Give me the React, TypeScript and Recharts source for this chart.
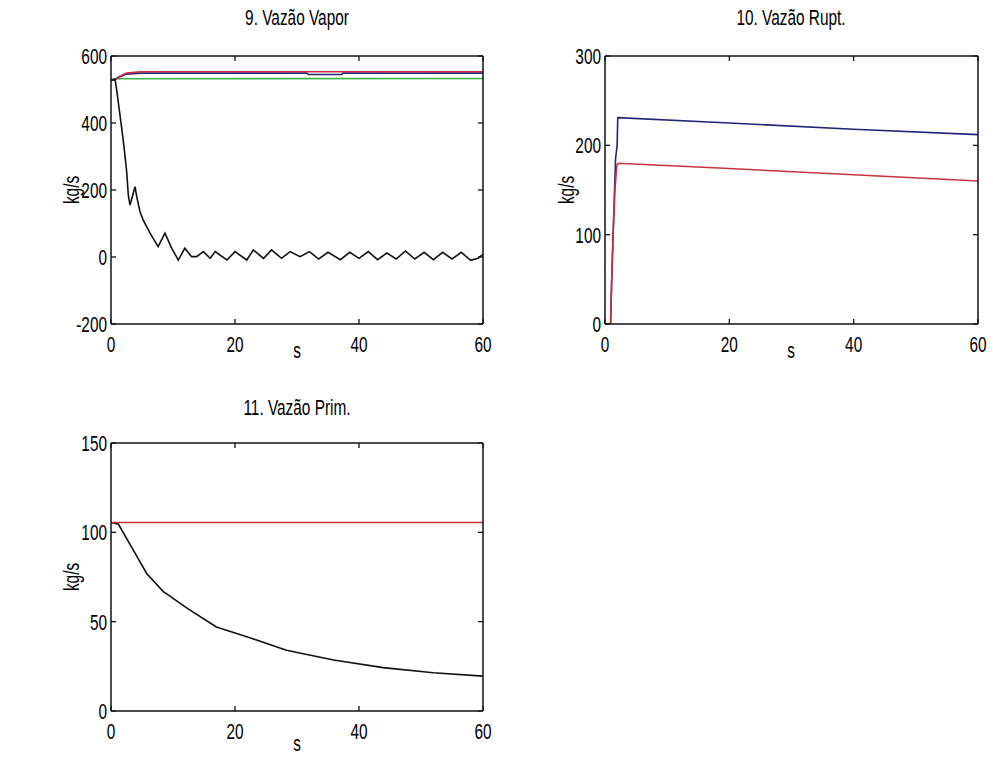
import React from 'react';
import { LineChart, Line, XAxis, YAxis } from 'recharts';

// ---------- shared ticks ----------
const timeTicks = [0, 20, 40, 60];
const vaporTicks = [-200, 0, 200, 400, 600];
const ruptTicks = [0, 100, 200, 300];
const primTicks = [0, 50, 100, 150];

// ---------- 9. Vazão Vapor ----------
const vaporBlackT = [0, 0.65, 0.92, 1.73, 2.1, 2.53, 2.79, 3.06, 3.44, 3.87, 4.15, 4.68, 5.2, 6.3, 7.6, 8.7, 9.8, 10.85, 11.9, 13.0, 13.8, 14.9, 16.0, 16.8, 18.7, 20.0, 21.9, 22.95, 24.6, 25.9, 27.5, 28.9, 30.5, 32, 33.5, 35, 37, 38.5, 40, 41.5, 43, 44.5, 46, 47.5, 49, 50.5, 52, 53.5, 55, 56.5, 58, 59.2, 60];
const vaporBlackV = [528, 531, 498, 384, 329, 255, 185, 155, 180, 210, 180, 135, 110, 71, 31, 71, 26, -9, 26, 1, 1, 16, -4, 16, -9, 16, -9, 21, -4, 21, -4, 16, 1, 16, -6, 14, -8, 14, -4, 16, -8, 12, -6, 18, -6, 14, -8, 14, -6, 14, -10, -4, 8];
const vaporRedT = [0, 0.6, 1.45, 2.5, 4.7, 60];
const vaporRedV = [526, 530, 540, 549, 553, 553];
const vaporBlueT = [0, 0.6, 1.45, 2.5, 4.7, 31.6, 31.8, 37.2, 37.4, 60];
const vaporBlueV = [526, 530, 538, 546, 549, 549, 545, 545, 549, 549];
const vaporGreenT = [0, 0.6, 60];
const vaporGreenV = [529, 532, 533];

// ---------- 10. Vazão Rupt. ----------
const ruptRedT = [0, 0.9, 1.0, 1.3, 1.6, 1.9, 2.2, 20, 40, 60];
const ruptRedV = [0, 0, 30, 100, 150, 178, 180, 174, 167, 160];
const ruptBlueT = [0, 0.9, 1.0, 1.3, 1.7, 1.95, 2.05, 20, 40, 60];
const ruptBlueV = [0, 0, 30, 100, 185, 200, 231, 225, 218, 212];

// ---------- 11. Vazão Prim. ----------
const primRedT = [0, 60];
const primRedV = [105.5, 105.5];
const primBlackT = [0, 1.2, 3.6, 5.75, 8.4, 12.5, 17, 22.4, 28.3, 35.9, 43.9, 52, 60];
const primBlackV = [105.5, 104.5, 90, 77, 67, 57, 47, 41, 34, 28.5, 24.3, 21.4, 19.5];

const zip = (t: number[], v: number[]) => t.map((x, i) => ({ t: x, v: v[i] }));

const FONT = "'Liberation Sans', Arial, sans-serif";
const FS = 22;
const SX = 0.7;
const RED = '#c8323c';
const BLUE = '#23237d';
const GREEN = '#3cb44b';
const BLACK = '#111111';
const AXIS = '#111';
const TICK_LEN = 5;

const txtStyle = { fontFamily: FONT, fontSize: FS, fill: '#000' } as const;

function NarrowText(props: { x: number; y: number; anchor: 'start' | 'middle' | 'end'; rotate?: number; children: React.ReactNode }) {
  const { x, y, anchor, rotate, children } = props;
  const tr = `translate(${x},${y})${rotate ? ` rotate(${rotate})` : ''} scale(${SX},1)`;
  return (
    <text transform={tr} x={0} y={0} textAnchor={anchor} style={txtStyle}>
      {children}
    </text>
  );
}

const LeftTick = (p: any) => (
  <g>
    <line x1={p.x} x2={p.x + TICK_LEN} y1={p.y} y2={p.y} stroke={AXIS} strokeWidth={1.3} />
    <NarrowText x={p.x - 4} y={p.y + 8} anchor="end">{p.payload.value}</NarrowText>
  </g>
);
const BottomTick = (p: any) => (
  <g>
    <line x1={p.x} x2={p.x} y1={p.y} y2={p.y - TICK_LEN} stroke={AXIS} strokeWidth={1.3} />
    <NarrowText x={p.x} y={p.y + 28} anchor="middle">{p.payload.value}</NarrowText>
  </g>
);
const TopTick = (p: any) => (
  <line x1={p.x} x2={p.x} y1={p.y} y2={p.y + TICK_LEN} stroke={AXIS} strokeWidth={1.3} />
);
const RightTick = (p: any) => (
  <line x1={p.x} x2={p.x - TICK_LEN} y1={p.y} y2={p.y} stroke={AXIS} strokeWidth={1.3} />
);

type Series = { data: { t: number; v: number }[]; color: string };

function Panel(props: {
  left: number;
  top: number;
  width: number;
  marginRight: number;
  domain: [number, number];
  ticks: number[];
  series: Series[];
}) {
  const { left, top, width, marginRight, domain, ticks, series } = props;
  return (
    <div style={{ position: 'absolute', left, top }}>
      <LineChart width={width} height={380} margin={{ top: 55, right: marginRight - 1, bottom: 0, left: 0 }}>
        <XAxis
          type="number"
          dataKey="t"
          domain={[0, 60]}
          ticks={timeTicks}
          height={56}
          tickSize={0}
          tickMargin={0}
          tickLine={false}
          stroke={AXIS}
          strokeWidth={1.5}
          tick={BottomTick}
          interval={0}
          allowDataOverflow
        />
        <XAxis
          xAxisId="top"
          orientation="top"
          type="number"
          dataKey="t"
          domain={[0, 60]}
          ticks={timeTicks}
          height={1}
          tickSize={0}
          tickMargin={0}
          tickLine={false}
          stroke={AXIS}
          strokeWidth={1.5}
          tick={TopTick}
          interval={0}
          allowDataOverflow
        />
        <YAxis
          type="number"
          domain={domain}
          ticks={ticks}
          width={111}
          tickSize={0}
          tickMargin={0}
          tickLine={false}
          stroke={AXIS}
          strokeWidth={1.5}
          tick={LeftTick}
          interval={0}
          allowDataOverflow
        />
        <YAxis
          yAxisId="right"
          orientation="right"
          type="number"
          domain={domain}
          ticks={ticks}
          width={1}
          tickSize={0}
          tickMargin={0}
          tickLine={false}
          stroke={AXIS}
          strokeWidth={1.5}
          tick={RightTick}
          interval={0}
          allowDataOverflow
        />
        {series.map((s, i) => (
          <Line
            key={i}
            data={s.data}
            dataKey="v"
            type="linear"
            stroke={s.color}
            strokeWidth={1.6}
            dot={false}
            activeDot={false}
            isAnimationActive={false}
          />
        ))}
      </LineChart>
    </div>
  );
}

export default function App() {
  return (
    <div style={{ position: 'absolute', left: 0, top: 0, width: 993, height: 776, background: '#fff' }}>
      <Panel
        left={0}
        top={0}
        width={500}
        marginRight={17}
        domain={[-200, 600]}
        ticks={vaporTicks}
        series={[
          { data: zip(vaporGreenT, vaporGreenV), color: GREEN },
          { data: zip(vaporBlueT, vaporBlueV), color: BLUE },
          { data: zip(vaporRedT, vaporRedV), color: RED },
          { data: zip(vaporBlackT, vaporBlackV), color: BLACK },
        ]}
      />
      <Panel
        left={494}
        top={0}
        width={499}
        marginRight={15}
        domain={[0, 300]}
        ticks={ruptTicks}
        series={[
          { data: zip(ruptBlueT, ruptBlueV), color: BLUE },
          { data: zip(ruptRedT, ruptRedV), color: RED },
        ]}
      />
      <Panel
        left={0}
        top={387}
        width={500}
        marginRight={17}
        domain={[0, 150]}
        ticks={primTicks}
        series={[
          { data: zip(primBlackT, primBlackV), color: BLACK },
          { data: zip(primRedT, primRedV), color: RED },
        ]}
      />
      <svg width={993} height={776} style={{ position: 'absolute', left: 0, top: 0, pointerEvents: 'none' }}>
        <NarrowText x={297} y={25} anchor="middle">9. Vazão Vapor</NarrowText>
        <NarrowText x={791} y={25} anchor="middle">10. Vazão Rupt.</NarrowText>
        <NarrowText x={297} y={415} anchor="middle">11. Vazão Prim.</NarrowText>
        <NarrowText x={297} y={358} anchor="middle">s</NarrowText>
        <NarrowText x={791} y={358} anchor="middle">s</NarrowText>
        <NarrowText x={297} y={751} anchor="middle">s</NarrowText>
        <NarrowText x={79} y={190} anchor="middle" rotate={-90}>kg/s</NarrowText>
        <NarrowText x={574} y={190} anchor="middle" rotate={-90}>kg/s</NarrowText>
        <NarrowText x={79} y={577} anchor="middle" rotate={-90}>kg/s</NarrowText>
      </svg>
    </div>
  );
}
